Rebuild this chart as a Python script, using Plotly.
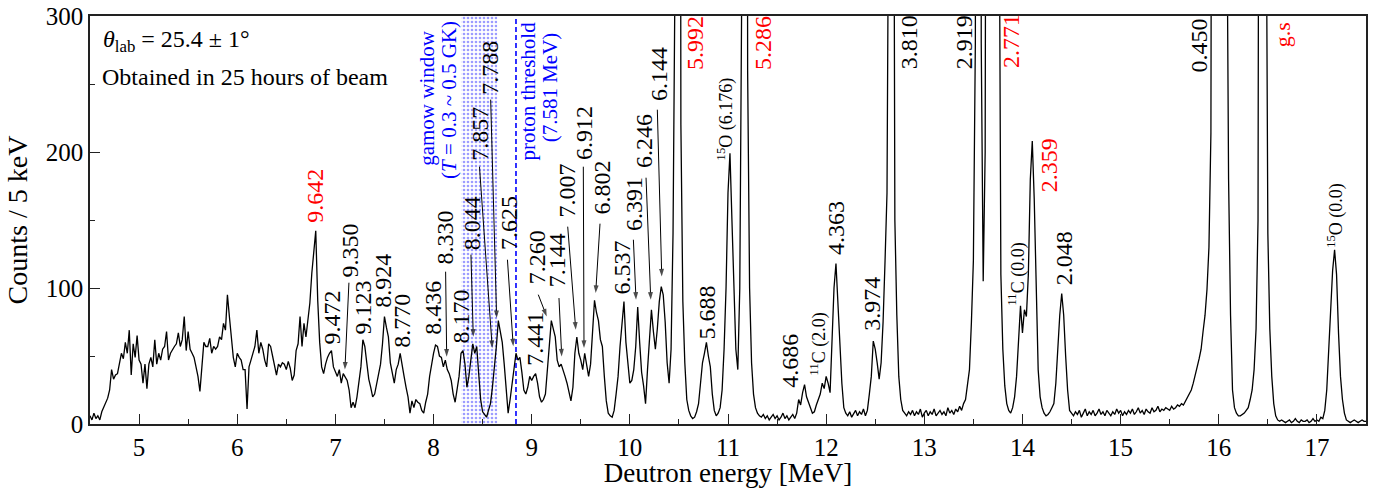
import numpy as np
import plotly.graph_objects as go

# ---------------- data ----------------
bin_start = 4.50   # MeV, first sample
bin_width = 0.02   # MeV between samples
counts = [
    6, 3, 8, 4, 6, 3, 9, 12, 15, 19,            # 4.50
    25, 40, 33, 36, 37, 44, 52, 48, 60, 52,     # 4.70
    69, 36, 59, 49, 65, 47, 44, 30, 44, 26,     # 4.90
    44, 49, 42, 62, 44, 52, 47, 55, 57, 68,     # 5.10
    47, 52, 55, 57, 59, 67, 57, 62, 79, 54,     # 5.30
    68, 55, 52, 49, 42, 35, 24, 40, 60, 57,     # 5.50
    57, 63, 52, 57, 55, 57, 64, 62, 74, 69,     # 5.70
    95, 79, 62, 49, 42, 52, 49, 47, 40, 40,     # 5.90
    11, 42, 47, 52, 57, 69, 52, 60, 55, 47,     # 6.10
    42, 59, 57, 50, 44, 36, 44, 42, 45, 44,     # 6.30
    40, 46, 41, 32, 36, 54, 59, 79, 57, 74,     # 6.50
    64, 76, 89, 111, 126, 142, 91, 60, 42, 37,  # 6.70
    44, 49, 52, 54, 42, 38, 35, 40, 30, 37,     # 6.90
    34, 32, 25, 12, 16, 12, 20, 30, 42, 62,     # 7.10
    57, 45, 33, 27, 20, 22, 30, 38, 44, 59,     # 7.30
    79, 71, 64, 45, 37, 30, 40, 44, 52, 42,     # 7.50
    35, 27, 20, 8, 17, 12, 18, 16, 15, 10,      # 7.70
    8, 16, 22, 35, 45, 52, 58, 57, 50, 49,      # 7.90
    42, 47, 40, 37, 32, 22, 16, 25, 35, 52,     # 8.10
    54, 44, 27, 35, 47, 59, 52, 57, 37, 18,     # 8.30
    9, 7, 5, 10, 15, 27, 40, 57, 76, 67,        # 8.50
    60, 44, 22, 8, 18, 30, 42, 52, 47, 49,      # 8.70
    38, 25, 22, 27, 35, 32, 35, 37, 30, 20,     # 8.90
    16, 18, 22, 42, 58, 76, 70, 64, 47, 42,     # 9.10
    44, 40, 35, 30, 22, 17, 27, 52, 64, 52,     # 9.30
    47, 40, 52, 42, 35, 44, 65, 91, 82, 76,     # 9.50
    62, 57, 35, 17, 8, 6, 5, 10, 22, 35,        # 9.70
    57, 76, 90, 60, 42, 30, 32, 40, 57, 86,     # 9.90
    60, 38, 28, 15, 40, 62, 84, 68, 55, 70,     # 10.10
    90, 101, 95, 75, 45, 30, 55, 140, 330, 1600,  # 10.30
    1400, 220, 90, 45, 18, 10, 6, 4, 5, 9,      # 10.50
    15, 30, 45, 52, 60, 50, 42, 22, 10, 6,      # 10.70
    8, 12, 25, 55, 100, 170, 199, 150, 95, 55,  # 10.90
    40, 100, 320, 2200, 1900, 260, 100, 45, 22, 12,  # 11.10
    8, 6, 5, 7, 4, 6, 3, 5, 7, 4,               # 11.30
    6, 3, 5, 8, 4, 6, 3, 5, 7, 4,               # 11.50
    8, 18, 14, 23, 29, 20, 15, 12, 8, 9,        # 11.70
    14, 18, 22, 30, 26, 35, 30, 23, 60, 100,    # 11.90
    118, 85, 55, 30, 12, 8, 6, 9, 5, 8,         # 12.10
    10, 6, 9, 7, 11, 6, 10, 22, 35, 61,         # 12.30
    55, 45, 33, 45, 75, 120, 170, 450, 1800, 700,  # 12.50
    150, 80, 35, 18, 10, 8, 6, 9, 7, 10,        # 12.70
    6, 9, 7, 11, 5, 8, 10, 6, 9, 7,             # 12.90
    11, 6, 8, 10, 7, 9, 6, 12, 8, 10,           # 13.10
    7, 11, 9, 13, 10, 15, 18, 28, 40, 75,       # 13.30
    120, 280, 1500, 2000, 280, 105, 200, 380, 1500, 3000,  # 13.50
    3200, 3000, 1200, 450, 110, 55, 28, 15, 10, 8,  # 13.70
    12, 20, 35, 60, 87, 67, 84, 79, 110, 180,   # 13.90
    208, 165, 95, 40, 20, 12, 8, 6, 7, 9,       # 14.10
    12, 15, 30, 60, 80, 96, 80, 50, 25, 10,     # 14.30
    8, 6, 9, 7, 10, 5, 8, 11, 6, 9,             # 14.50
    7, 10, 6, 8, 11, 7, 9, 6, 10, 8,            # 14.70
    6, 9, 7, 11, 8, 10, 6, 9, 7, 10,            # 14.90
    8, 11, 7, 9, 12, 8, 10, 7, 11, 9,           # 15.10
    8, 12, 9, 10, 13, 9, 11, 10, 12, 11,        # 15.30
    10, 13, 11, 12, 14, 13, 15, 14, 17, 19,     # 15.50
    22, 25, 30, 35, 42, 48, 55, 68, 80, 99,     # 15.70
    130, 214, 400, 1500, 3000, 3500, 3000, 2000, 1000, 420,  # 15.90
    180, 80, 25, 12, 8, 6, 6, 7, 8, 10,         # 16.10
    12, 18, 25, 40, 70, 150, 330, 2500, 2800, 450,  # 16.30
    140, 70, 35, 15, 6, 3, 2, 3, 2, 1,          # 16.50
    2, 3, 1, 2, 4, 2, 1, 3, 2, 2,               # 16.70
    3, 1, 2, 4, 2, 3, 2, 5, 4, 10,              # 16.90
    25, 55, 85, 113, 128, 110, 67, 35, 18, 8,   # 17.10
    3, 2, 1, 2, 3, 2, 1, 2, 3, 2,               # 17.30
    2,                                          # 17.50
]
energies = np.round(bin_start + bin_width * np.arange(len(counts)), 3)

x_ticks = [5, 6, 7, 8, 9, 10, 11, 12, 13, 14, 15, 16, 17]
y_ticks = [0, 100, 200, 300]

gamow_window = [8.28, 8.65]      # MeV (deutron energy)
proton_threshold_E = 8.84        # MeV (deutron energy)

# level labels: text, colour, font size, x (MeV), y (counts, bottom of text), arrow (from -> to) or None
level_labels = [
    ("9.642", "red", 24, 6.791, 146.5, None),
    ("9.472", "black", 24, 6.964, 56.8, None),
    ("9.350", "black", 24, 7.148, 106.1, (7.138, 103.9, 7.097, 40.0)),
    ("9.123", "black", 24, 7.280, 64.2, None),
    ("8.924", "black", 24, 7.484, 84.0, None),
    ("8.770", "black", 24, 7.678, 54.6, None),
    ("8.436", "black", 24, 7.994, 64.2, None),
    ("8.330", "black", 24, 8.116, 115.7, (8.123, 112.0, 8.134, 49.5)),
    ("8.170", "black", 24, 8.279, 57.6, None),
    ("8.044", "black", 24, 8.388, 126.0, (8.381, 124.5, 8.405, 64.2)),
    ("7.857", "black", 24, 8.473, 192.1, (8.468, 189.2, 8.598, 55.9)),
    ("7.788", "black", 24, 8.575, 240.7, (8.582, 238.5, 8.643, 77.9)),
    ("7.625", "black", 24, 8.761, 126.7, (8.753, 120.8, 8.812, 57.1)),
    ("7.441", "black", 24, 9.034, 41.4, None),
    ("7.260", "black", 24, 9.051, 101.0, (9.067, 95.1, 9.153, 79.1)),
    ("7.144", "black", 24, 9.255, 98.8, (9.278, 92.6, 9.306, 49.7)),
    ("7.007", "black", 24, 9.357, 150.2, (9.367, 145.1, 9.449, 69.3)),
    ("6.912", "black", 24, 9.526, 192.9, (9.526, 189.2, 9.533, 55.9)),
    ("6.802", "black", 24, 9.714, 152.4, (9.696, 147.3, 9.652, 96.3)),
    ("6.537", "black", 24, 9.917, 93.6, None),
    ("6.391", "black", 24, 10.036, 140.7, (10.036, 135.5, 10.063, 91.4)),
    ("6.246", "black", 24, 10.138, 187.0, (10.165, 181.1, 10.213, 91.4)),
    ("6.144", "black", 24, 10.291, 236.3, (10.280, 231.1, 10.325, 108.5)),
    ("5.992", "red", 24, 10.665, 259.0, None),
    ("5.688", "black", 24, 10.784, 60.5, None),
    ("<sup>15</sup>O (6.176)", "black", 18, 10.981, 192.1, None),
    ("5.286", "red", 24, 11.358, 259.0, None),
    ("4.686", "black", 24, 11.633, 25.2, None),
    ("<sup>11</sup>C (2.0)", "black", 18, 11.929, 34.0, None),
    ("4.363", "black", 24, 12.102, 123.0, None),
    ("3.974", "black", 24, 12.466, 67.1, None),
    ("3.810", "black", 24, 12.839, 259.0, None),
    ("2.919", "black", 24, 13.400, 259.0, None),
    ("2.771", "red", 24, 13.876, 260.5, None),
    ("<sup>11</sup>C (0.0)", "black", 18, 13.947, 85.5, None),
    ("2.359", "red", 24, 14.266, 168.6, None),
    ("2.048", "black", 24, 14.419, 100.2, None),
    ("0.450", "black", 24, 15.795, 256.8, None),
    ("g.s", "red", 22, 16.645, 275.2, None),
    ("<sup>15</sup>O (0.0)", "black", 18, 17.198, 128.0, None),
]

FONT = "Liberation Serif, Times New Roman, serif"
AXC = "#222222"

fig = go.Figure()

# gamow window (dotted blue region)
fig.add_trace(go.Scatter(
    x=[gamow_window[0], gamow_window[1], gamow_window[1], gamow_window[0], gamow_window[0]],
    y=[0, 0, 300, 300, 0],
    mode="lines", line=dict(width=0, color="rgba(0,0,0,0)"),
    fill="toself", fillcolor="white",
    fillpattern=dict(shape=".", fgcolor="#3a3aff", bgcolor="white", size=4, solidity=0.35),
    hoverinfo="skip", showlegend=False,
))

# proton threshold
fig.add_trace(go.Scatter(
    x=[proton_threshold_E, proton_threshold_E], y=[0, 300],
    mode="lines", line=dict(color="#0000ff", width=1.6, dash="5px,3px"),
    hoverinfo="skip", showlegend=False,
))

# spectrum
fig.add_trace(go.Scatter(
    x=energies, y=counts, mode="lines",
    line=dict(color="black", width=1.3),
    showlegend=False,
))

# arrows from labels to peaks (line + oriented arrow marker at the tip)
ax_, ay_, asz = [], [], []
for text, col, size, xe, yc, arrow in level_labels:
    if arrow is not None:
        x0, y0, x1, y1 = arrow
        ax_ += [x0, x1, None]
        ay_ += [y0, y1, None]
        asz += [0, 8, 0]
fig.add_trace(go.Scatter(
    x=ax_, y=ay_, mode="lines+markers",
    line=dict(color="black", width=1),
    marker=dict(symbol="arrow", size=asz, color="black", angleref="previous",
                line=dict(width=0)),
    hoverinfo="skip", showlegend=False, connectgaps=False,
))

ann = []
for text, col, size, xe, yc, arrow in level_labels:
    ann.append(dict(
        x=xe, y=yc, xref="x", yref="y", text=text, showarrow=False,
        textangle=-90, xanchor="center", yanchor="bottom",
        font=dict(family=FONT, size=size, color=col),
    ))

blue_texts = [
    ("gamow window", 7.930, 239.6),
    ("(<i>T</i> = 0.3 ~ 0.5 GK)", 8.150, 238.5),
    ("proton threshold", 8.965, 244.6),
    ("(7.581 MeV)", 9.187, 247.6),
]
for text, xe, yc in blue_texts:
    ann.append(dict(
        x=xe, y=yc, xref="x", yref="y", text=text, showarrow=False,
        textangle=-90, xanchor="center", yanchor="middle",
        font=dict(family=FONT, size=21, color="#0000ff"),
    ))

ann.append(dict(
    x=4.61, y=281.8, xref="x", yref="y", xanchor="left", yanchor="middle",
    text="<i>θ</i><sub>lab</sub> = 25.4 ± 1°", showarrow=False,
    font=dict(family=FONT, size=24, color="black"),
))
ann.append(dict(
    x=4.60, y=255.4, xref="x", yref="y", xanchor="left", yanchor="middle",
    text="Obtained in 25 hours of beam", showarrow=False,
    font=dict(family=FONT, size=24, color="black"),
))

fig.update_layout(
    width=1386, height=488,
    margin=dict(l=90, r=20, t=16, b=64),
    paper_bgcolor="white", plot_bgcolor="white",
    font=dict(family=FONT, size=25, color="black"),
    annotations=ann,
    showlegend=False,
)
fig.update_xaxes(
    range=[4.5, 17.5], tickvals=x_ticks, ticktext=[str(v) for v in x_ticks],
    ticks="inside", ticklen=10, tickwidth=1.2, tickcolor=AXC,
    minor=dict(dtick=0.5, ticks="inside", ticklen=5, tickwidth=1.2, tickcolor=AXC),
    showline=True, linewidth=1.5, linecolor=AXC, mirror=True,
    showgrid=False, zeroline=False, automargin=False,
    tickfont=dict(family=FONT, size=25, color="black"),
    title=dict(text="Deutron energy [MeV]", font=dict(family=FONT, size=27, color="black"), standoff=8),
)
fig.update_yaxes(
    range=[0, 300], tickvals=y_ticks, ticktext=[str(v) for v in y_ticks],
    ticks="inside", ticklen=10, tickwidth=1.2, tickcolor=AXC,
    minor=dict(dtick=50, ticks="inside", ticklen=5, tickwidth=1.2, tickcolor=AXC),
    showline=True, linewidth=1.5, linecolor=AXC, mirror=True,
    showgrid=False, zeroline=False, automargin=False,
    tickfont=dict(family=FONT, size=25, color="black"),
    title=dict(text="Counts / 5 keV", font=dict(family=FONT, size=28, color="black"), standoff=10),
)

fig.write_html(
    "out.html",
    config={"displayModeBar": False},
    post_script="document.body.style.margin='0px';document.body.style.overflow='hidden';",
)
